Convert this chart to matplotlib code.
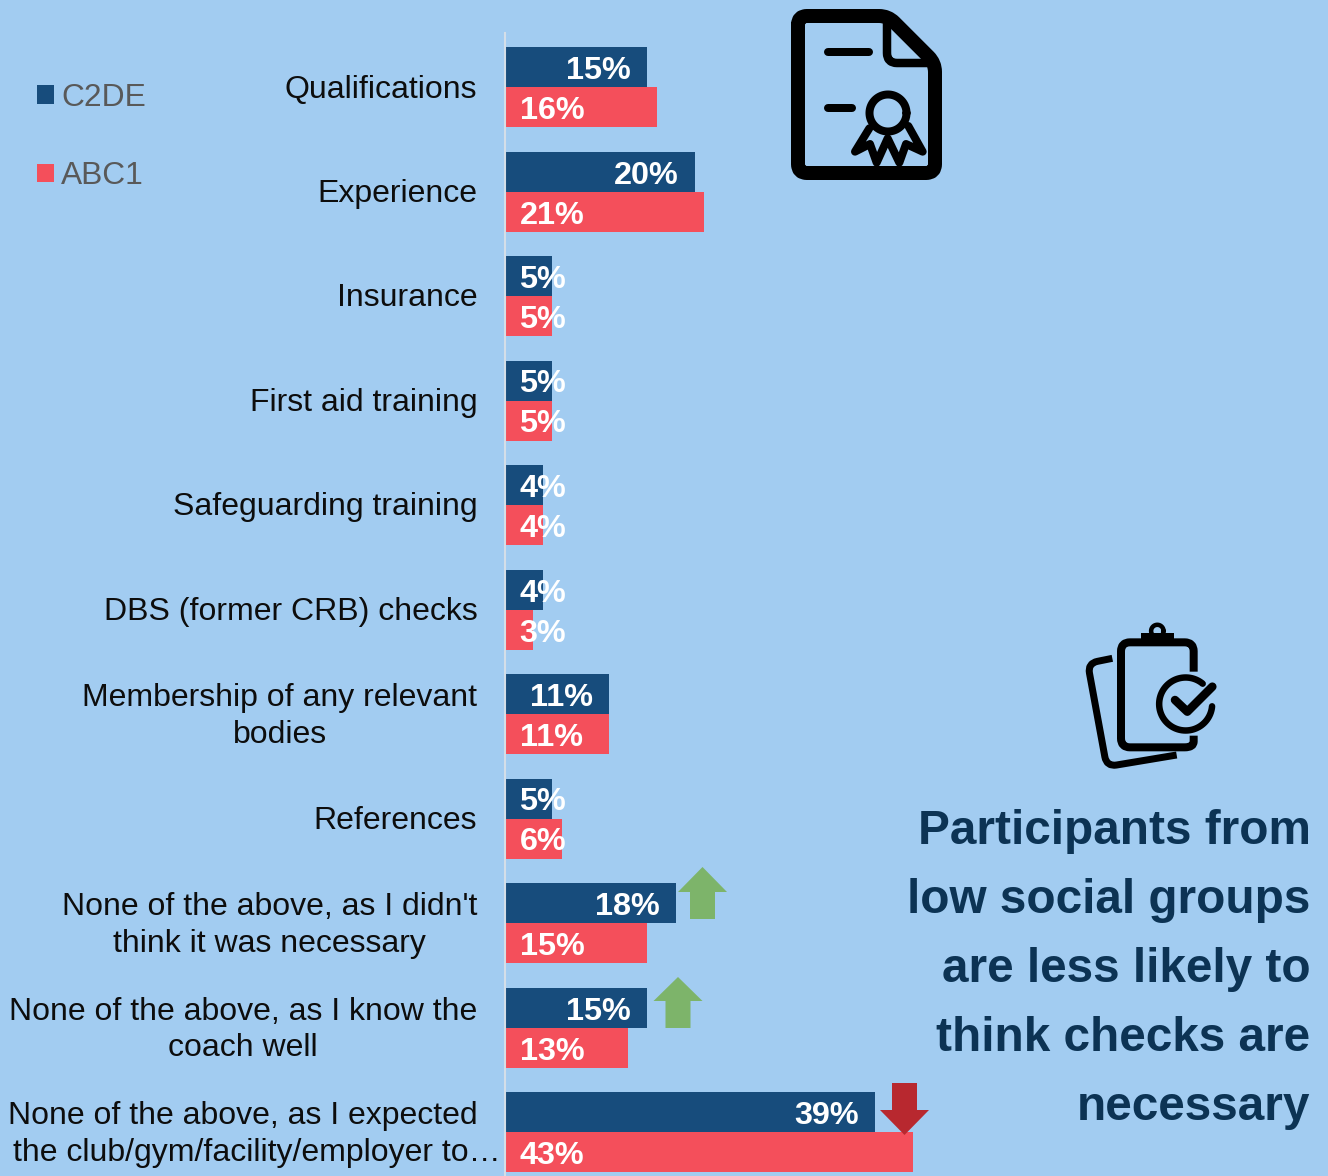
import numpy as np
import matplotlib
matplotlib.use("Agg")
import matplotlib.pyplot as plt
from matplotlib.patches import Patch, PathPatch, Polygon, Rectangle
from matplotlib.path import Path
from matplotlib.transforms import blended_transform_factory

# Survey results, percentages by social grade
categories = [
    "Qualifications",
    "Experience",
    "Insurance",
    "First aid training",
    "Safeguarding training",
    "DBS (former CRB) checks",
    "Membership of any relevant\nbodies",
    "References",
    "None of the above, as I didn't\nthink it was necessary",
    "None of the above, as I know the\ncoach well",
]
last_category = ["None of the above, as I expected", "the club/gym/facility/employer to…"]
c2de = [15, 20, 5, 5, 4, 4, 11, 5, 18, 15, 39]
abc1 = [16, 21, 5, 5, 4, 3, 11, 6, 15, 13, 43]
series_names = ["C2DE", "ABC1"]
headline = ("Participants from\nlow social groups\nare less likely to\n"
            "think checks are\nnecessary")

BG = "#A2CCF1"
NAVY = "#174C7C"
CORAL = "#F44F5B"
HEAD = "#0C3354"
W, H, DPI = 1328, 1176, 100
PX = 72 / DPI  # one pixel in points
plt.rcParams["font.family"] = ["Liberation Sans", "DejaVu Sans"]

fig = plt.figure(figsize=(W / DPI, H / DPI), dpi=DPI, facecolor=BG)

# Bar panel: zero sits at x=505, 9.48 px per percentage point, 104.5 px per row
ax = fig.add_axes([505 / W, 0, 1 - 505 / W, 1], facecolor="none")
ax.set_xlim(0, (W - 505) / 9.48)
ax.set_ylim((H - 87) / 104.5, -87 / 104.5)
ax.set_xticks([])
ax.set_yticks([])
for side in ("top", "right", "bottom"):
    ax.spines[side].set_visible(False)
ax.spines["left"].set_color("#D4DEE8")
ax.spines["left"].set_linewidth(1.5)
ax.spines["left"].set_bounds((33 - 87) / 104.5, (H - 87) / 104.5)

rows = np.arange(len(c2de))
bar_h = 40 / 104.5
ax.barh(rows - bar_h / 2, c2de, height=bar_h, color=NAVY, zorder=2)
ax.barh(rows + bar_h / 2, abc1, height=bar_h, color=CORAL, zorder=2)


def value_label(value, y, at_base):
    if at_base:
        xy, off, ha = (0, y), 14.5 * PX, "left"
    else:
        xy, off, ha = (value, y), -16 * PX, "right"
    ax.annotate(f"{value}%", xy=xy, xytext=(off, -4 * PX), textcoords="offset points",
                ha=ha, va="center", color="white", fontsize=23.3, fontweight="bold", zorder=6)


for r, (a, b) in enumerate(zip(c2de, abc1)):
    value_label(a, r - bar_h / 2, a * 9.48 < 95)
    value_label(b, r + bar_h / 2, True)

# Overlay in pixel units for labels, arrows and pictograms
ov = fig.add_axes([0, 0, 1, 1], facecolor="none")
ov.set_xlim(0, W)
ov.set_ylim(H, 0)
ov.axis("off")

row_tf = blended_transform_factory(ov.transData, ax.transData)
nudge = 2.5 / 104.5
for r, name in enumerate(categories):
    ov.text(477.3, r + nudge, name, transform=row_tf, ha="right", va="center", ma="center",
            fontsize=23, color="#0D0D0D", linespacing=1.3)
y_last = len(categories) + nudge
ov.text(477.3, y_last - 18.5 / 104.5, last_category[0], transform=row_tf, ha="right",
        va="center", fontsize=23, color="#0D0D0D")
ov.text(501, y_last + 18.5 / 104.5, last_category[1], transform=row_tf, ha="right",
        va="center", fontsize=23, color="#0D0D0D")

ov.text(1310.5, 969.5, headline, ha="right", va="center", ma="right", fontsize=34.35,
        fontweight="bold", color=HEAD, linespacing=1.68)

leg = fig.legend(handles=[Patch(fc=NAVY, lw=0), Patch(fc=CORAL, lw=0)], labels=series_names,
                 loc="upper left", bbox_to_anchor=(37 / W, 1 - 83 / H), frameon=False,
                 fontsize=22.9, labelcolor="#595959", handlelength=0.53, handleheight=0.53,
                 handletextpad=0.23, labelspacing=1.52, borderpad=0, borderaxespad=0)


def arrow(cx, tip, base, end, half_head, half_stem, color):
    ov.add_patch(Polygon([(cx, tip), (cx + half_head, base), (cx + half_stem, base),
                          (cx + half_stem, end), (cx - half_stem, end),
                          (cx - half_stem, base), (cx - half_head, base)],
                         closed=True, fc=color, ec="none", zorder=8))


arrow(702.5, 867, 892, 919, 24.5, 12.5, "#7DB46A")
arrow(678, 977, 1001, 1028, 24.5, 12.5, "#7DB46A")
arrow(904.5, 1135, 1110, 1083, 24.5, 12.5, "#B8282F")


def rounded(points, radius, closed=False):
    """Polyline path whose corners are softened with quadratic curves."""
    pts = [np.asarray(p, float) for p in points]
    n = len(pts)
    verts, codes = [], []
    idx = range(n) if closed else range(1, n - 1)
    if not closed:
        verts.append(pts[0]); codes.append(Path.MOVETO)
    for k, i in enumerate(idx):
        p, prev, nxt = pts[i], pts[(i - 1) % n], pts[(i + 1) % n]
        a = p + (prev - p) / np.linalg.norm(prev - p) * min(radius, np.linalg.norm(prev - p) / 2)
        b = p + (nxt - p) / np.linalg.norm(nxt - p) * min(radius, np.linalg.norm(nxt - p) / 2)
        verts.append(a); codes.append(Path.MOVETO if closed and k == 0 else Path.LINETO)
        verts += [p, b]; codes += [Path.CURVE3, Path.CURVE3]
    if closed:
        verts.append(verts[0]); codes.append(Path.LINETO)
    else:
        verts.append(pts[-1]); codes.append(Path.LINETO)
    return Path(verts, codes)


def stroke(path, width, cap="round", join="round"):
    ov.add_patch(PathPatch(path, fc="none", ec="black", lw=width * PX,
                           capstyle=cap, joinstyle=join, zorder=9))


def zoomed(points, ox, oy):
    return [(ox + x / 3, oy + y / 3) for x, y in points]


def ring(cx, cy, r, width, start=0, stop=360):
    t = np.radians(np.linspace(start, stop, 90))
    stroke(Path(np.column_stack([cx + r * np.cos(t), cy + r * np.sin(t)])), width)


# Certificate pictogram
stroke(rounded([(798, 16), (888, 16), (935, 63), (935, 173), (798, 173)], 9, closed=True), 14)
stroke(rounded([(887, 22), (887, 63), (932, 63)], 10), 8.5, cap="butt")
stroke(Path([(828, 52), (869, 52)]), 8)
stroke(Path([(828, 108), (852, 108)]), 8)
ring(888, 113, 18.5, 8)
stroke(Path(zoomed([(268, 385), (225, 455), (270, 432), (290, 488), (323, 415), (358, 488),
                    (378, 432), (428, 455), (385, 378)], 780, 0)), 8)

# Clipboard pictogram
stroke(rounded(zoomed([(356, 155), (356, 67), (138, 67), (138, 382), (356, 382), (356, 347)],
                      1075, 620), 9), 8, cap="butt")
ov.add_patch(Rectangle((1075 + 197 / 3, 620 + 38 / 3), 101 / 3, 20 / 3, fc="black", ec="none", zorder=9))
ring(1075 + 247 / 3, 620 + 33 / 3, 6.2, 4.5)
ring(1075 + 332 / 3, 620 + 252 / 3, 26.5, 6.5, start=5, stop=310)
stroke(Path(zoomed([(300, 240), (337, 275), (412, 200)], 1075, 620)), 8.5)
stroke(rounded(zoomed([(112, 115), (38, 130), (95, 440), (305, 405)], 1075, 620), 10), 7, cap="butt")

fig.savefig("out.png", dpi=DPI, facecolor=BG)
